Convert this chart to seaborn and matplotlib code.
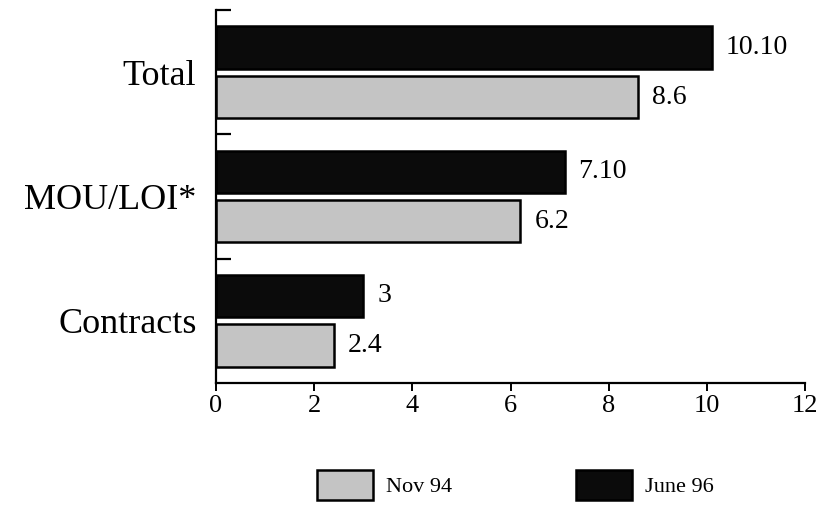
import pandas as pd
import matplotlib.pyplot as plt
from matplotlib.ticker import FixedLocator
import seaborn as sns

# data
categories = ['Total', 'MOU/LOI*', 'Contracts']
june96 = [10.1, 7.1, 3.0]
nov94 = [8.6, 6.2, 2.4]
june96_labels = ['10.10', '7.10', '3']
nov94_labels = ['8.6', '6.2', '2.4']
periods = ['June 96', 'Nov 94']

sns.set_theme(style="white")
plt.rcParams['font.family'] = ['Liberation Serif', 'DejaVu Serif']
plt.rcParams['text.color'] = 'black'

df = pd.DataFrame({
    'Category': categories * 2,
    'Value': june96 + nov94,
    'Period': [periods[0]] * len(categories) + [periods[1]] * len(categories),
})

palette = {'June 96': '#0b0b0b', 'Nov 94': '#c4c4c4'}

fig = plt.figure(figsize=(8.21, 5.09), dpi=100)
ax = fig.add_axes([0.263, 0.248, 0.718, 0.732])

sns.barplot(data=df, y='Category', x='Value', hue='Period', hue_order=periods,
            order=categories, palette=palette, orient='h', width=0.8, gap=0.15,
            edgecolor='black', linewidth=1.8, saturation=1, ax=ax)

ax.bar_label(ax.containers[0], labels=june96_labels, padding=10, fontsize=20, color='black')
ax.bar_label(ax.containers[1], labels=nov94_labels, padding=10, fontsize=20, color='black')

ax.set_xlim(0, 12)
ax.set_ylim(2.5, -0.5)
ax.set_xticks(range(0, 13, 2))
ax.set_xlabel('')
ax.set_ylabel('')

for side in ['top', 'right']:
    ax.spines[side].set_visible(False)
for side in ['left', 'bottom']:
    ax.spines[side].set_color('black')
    ax.spines[side].set_linewidth(1.6)

ax.yaxis.set_minor_locator(FixedLocator([-0.5, 0.5, 1.5]))
ax.tick_params(axis='y', which='major', length=0, pad=14, labelsize=26)
ax.tick_params(axis='y', which='minor', direction='in', length=11, width=1.6,
               color='black', left=True)
ax.tick_params(axis='x', which='major', direction='out', length=6, width=1.4,
               color='black', bottom=True, labelsize=19, pad=3)
for lbl in ax.get_yticklabels() + ax.get_xticklabels():
    lbl.set_color('black')

ax.get_legend().remove()
handles = [plt.Rectangle((0, 0), 1, 1, facecolor=palette['Nov 94'], edgecolor='black', linewidth=1.8),
           plt.Rectangle((0, 0), 1, 1, facecolor=palette['June 96'], edgecolor='black', linewidth=1.8)]
fig.legend(handles, ['Nov 94', 'June 96'], loc='center', bbox_to_anchor=(0.628, 0.047),
           ncol=2, frameon=False, fontsize=16, handlelength=2.5, handleheight=1.75,
           handletextpad=0.6, columnspacing=5.6, labelcolor='black')

fig.savefig('out.png', dpi=100)
